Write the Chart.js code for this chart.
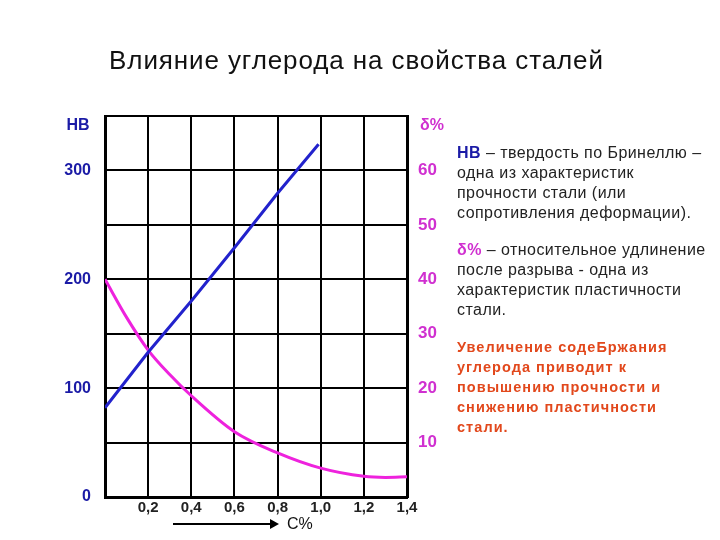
<!DOCTYPE html>
<html lang="ru">
<head>
<meta charset="utf-8">
<script src="https://cdn.jsdelivr.net/npm/chart.js@4/dist/chart.umd.min.js"></script>
<style>
    body { margin: 0; background: #fff; font-family: "Liberation Sans", Arial, sans-serif; }
    #lienzo { position: relative; width: 720px; height: 540px; }
    #titulo { position: absolute; left: 0; width: 713px; top: 45px; line-height: 30px; text-align: center; font-size: 26px; letter-spacing: 0.9px; color: #111; white-space: nowrap; }
    #notas { position: absolute; left: 457px; top: 143px; width: 263px; font-size: 16px; line-height: 20px; letter-spacing: 0.45px; color: #222; white-space: nowrap; }
    #notas p { margin: 0 0 17px 0; }
    .hb { color: #1b1ba6; font-weight: bold; }
    .delta { color: #d030d0; font-weight: bold; }
    .rojo { color: #e2481c; font-weight: bold; font-size: 14.5px; letter-spacing: 1.05px; }
    #flecha { position: absolute; left: 173px; top: 523px; width: 98px; height: 2px; background: #000; }
    #flecha::after { content: ""; position: absolute; right: -8px; top: -4px; border-left: 9px solid #000; border-top: 5px solid transparent; border-bottom: 5px solid transparent; }
    #cpor { position: absolute; left: 287px; top: 515px; font-size: 16px; color: #111; }
</style>
</head>
<body>
<div id="lienzo">
    <canvas id="graficaAcero" width="720" height="540"></canvas>
    <div id="titulo">Влияние углерода на свойства сталей</div>
    <div id="notas">
        <p><span class="hb">НВ</span> – твердость по Бринеллю –<br>одна из характеристик<br>прочности стали (или<br>сопротивления деформации).</p>
        <p><span class="delta">δ%</span> – относительное удлинение<br>после разрыва -  одна из<br>характеристик пластичности<br>стали.</p>
        <p class="rojo">Увеличение содеБржания<br>углерода приводит к<br>повышению прочности и<br>снижению пластичности<br>стали.</p>
    </div>
    <div id="flecha"></div>
    <div id="cpor">С%</div>
</div>
<script>
// Datos
const carbonoHB = [0, 0.2, 0.4, 0.6, 0.8, 0.99];
const dureza = [82, 133, 180, 229, 279, 324];

const carbonoDelta = [0, 0.1, 0.2, 0.3, 0.4, 0.6, 0.8, 1.0, 1.2, 1.3, 1.4];
const alargamiento = [40, 33, 27, 22.5, 18.6, 12, 8.1, 5.3, 3.8, 3.6, 3.7];

const ticksX = [0, 0.2, 0.4, 0.6, 0.8, 1.0, 1.2, 1.4];
const etiquetasX = ["", "0,2", "0,4", "0,6", "0,8", "1,0", "1,2", "1,4"];
const ticksHB = [0, 50, 100, 150, 200, 250, 300, 350];
const etiquetasHB = ["0", "", "100", "", "200", "", "300", ""];
const ticksDelta = [0, 10, 20, 30, 40, 50, 60, 70];
const etiquetasDelta = ["", "10", "20", "30", "40", "50", "60", ""];

function armarPuntos(xs, ys) {
    return xs.map((x, i) => ({ x, y: ys[i] }));
}

// Rotulos de ejes arriba (HB y δ%)
const rotulosEjes = {
    id: "rotulosEjes",
    afterDraw(chart) {
        const ctx = chart.ctx;
        const area = chart.chartArea;
        ctx.save();
        ctx.font = "bold 16px 'Liberation Sans', Arial, sans-serif";
        ctx.textBaseline = "middle";
        ctx.textAlign = "center";
        ctx.fillStyle = "#1b1ba6";
        ctx.fillText("НВ", 78, area.top + 10);
        ctx.fillStyle = "#d030d0";
        ctx.fillText("δ%", 432, area.top + 10);
        ctx.restore();
    }
};

const ctx = document.getElementById("graficaAcero").getContext("2d");
new Chart(ctx, {
    type: "line",
    data: {
        datasets: [
            {
                label: "HB",
                data: armarPuntos(carbonoHB, dureza),
                borderColor: "#2222cc",
                borderWidth: 3,
                pointRadius: 0,
                tension: 0,
                yAxisID: "y"
            },
            {
                label: "δ%",
                data: armarPuntos(carbonoDelta, alargamiento),
                borderColor: "#ee22dd",
                borderWidth: 3,
                pointRadius: 0,
                cubicInterpolationMode: "monotone",
                yAxisID: "y2"
            }
        ]
    },
    options: {
        responsive: false,
        animation: false,
        layout: { padding: { top: 116, left: 0, right: 0, bottom: 0 } },
        plugins: { legend: { display: false }, tooltip: { enabled: false } },
        scales: {
            x: {
                type: "linear",
                min: 0,
                max: 1.4,
                afterBuildTicks: (s) => { s.ticks = ticksX.map(v => ({ value: v })); },
                afterFit: (s) => { s.height = 43; },
                grid: { color: "#000", lineWidth: 2, drawTicks: false },
                border: { color: "#000", width: 3 },
                ticks: {
                    padding: 2,
                    color: "#222",
                    font: { family: "'Liberation Sans', Arial", size: 15, weight: "bold" },
                    callback: (v, i) => etiquetasX[i]
                }
            },
            y: {
                position: "left",
                min: 0,
                max: 350,
                afterBuildTicks: (s) => { s.ticks = ticksHB.map(v => ({ value: v })); },
                afterFit: (s) => { s.width = 105; },
                grid: { color: "#000", lineWidth: 2, drawTicks: false },
                border: { color: "#000", width: 3 },
                ticks: {
                    padding: 14,
                    color: "#1b1ba6",
                    font: { family: "'Liberation Sans', Arial", size: 16, weight: "bold" },
                    callback: (v, i) => etiquetasHB[i]
                }
            },
            y2: {
                position: "right",
                min: 0,
                max: 70,
                afterBuildTicks: (s) => { s.ticks = ticksDelta.map(v => ({ value: v })); },
                afterFit: (s) => { s.width = 313; },
                grid: { display: false, drawTicks: false },
                border: { color: "#000", width: 3 },
                ticks: {
                    padding: 11,
                    color: "#d030d0",
                    font: { family: "'Liberation Sans', Arial", size: 17, weight: "bold" },
                    callback: (v, i) => etiquetasDelta[i]
                }
            }
        }
    },
    plugins: [rotulosEjes]
});
</script>
</body>
</html>
